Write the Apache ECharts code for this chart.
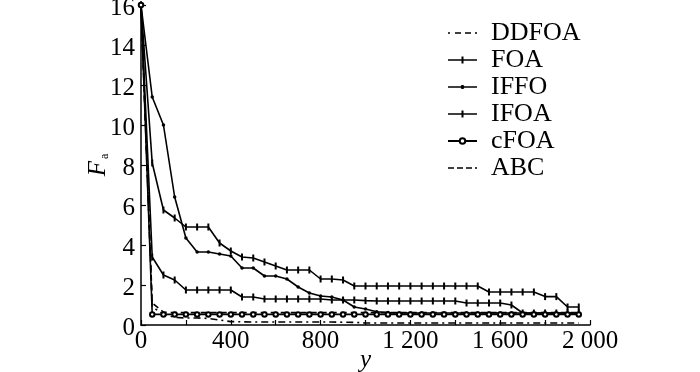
<!DOCTYPE html>
<html>
<head>
<meta charset="utf-8">
<script src="https://cdn.jsdelivr.net/npm/echarts@6/dist/echarts.min.js"></script>
<style>
  html, body { margin: 0; padding: 0; background: #fff; }
  #chart { width: 700px; height: 372px; }
</style>
</head>
<body>
<div id="chart"></div>
<script>
// iterations (x) and series values (y)
var iters = [0, 50, 100, 150, 200, 250, 300, 350, 400, 450, 500, 550, 600, 650, 700, 750, 800, 850, 900, 950,
  1000, 1050, 1100, 1150, 1200, 1250, 1300, 1350, 1400, 1450, 1500, 1550, 1600, 1650, 1700, 1750, 1800, 1850, 1900, 1950];

var ddfoa = [16, 0.9, 0.55, 0.38, 0.35, 0.35, 0.33, 0.25, 0.17, 0.16, 0.15, 0.15, 0.15, 0.15, 0.15, 0.15, 0.15, 0.15, 0.14, 0.13,
  0.1, 0.1, 0.1, 0.1, 0.1, 0.1, 0.1, 0.1, 0.1, 0.1, 0.1, 0.1, 0.1, 0.1, 0.1, 0.1, 0.1, 0.1, 0.1, 0.1];
var foa = [16, 8.1, 5.75, 5.35, 4.9, 4.9, 4.9, 4.1, 3.7, 3.4, 3.35, 3.15, 2.95, 2.75, 2.75, 2.75, 2.3, 2.3, 2.25, 1.95,
  1.95, 1.95, 1.95, 1.95, 1.95, 1.95, 1.95, 1.95, 1.95, 1.95, 1.95, 1.65, 1.65, 1.65, 1.65, 1.65, 1.42, 1.42, 0.9, 0.9];
var iffo = [16, 11.4, 10.0, 6.4, 4.35, 3.65, 3.65, 3.55, 3.45, 2.85, 2.85, 2.45, 2.45, 2.3, 1.9, 1.6, 1.45, 1.4, 1.25, 0.9,
  0.8, 0.66, 0.62, 0.6, 0.6, 0.6, 0.6, 0.6, 0.6, 0.6, 0.6, 0.6, 0.6, 0.6, 0.6, 0.6, 0.6, 0.6, 0.6, 0.6];
var ifoa = [16, 3.4, 2.5, 2.25, 1.75, 1.75, 1.75, 1.75, 1.75, 1.4, 1.4, 1.3, 1.3, 1.3, 1.3, 1.3, 1.3, 1.25, 1.25, 1.25,
  1.22, 1.2, 1.2, 1.2, 1.2, 1.2, 1.2, 1.2, 1.2, 1.1, 1.1, 1.1, 1.1, 1.0, 0.6, 0.6, 0.6, 0.6, 0.6, 0.6];
var cfoa = [16, 0.53, 0.53, 0.53, 0.53, 0.53, 0.53, 0.53, 0.53, 0.53, 0.53, 0.53, 0.53, 0.53, 0.53, 0.53, 0.53, 0.53, 0.53, 0.53,
  0.53, 0.53, 0.53, 0.53, 0.53, 0.53, 0.53, 0.53, 0.53, 0.53, 0.53, 0.53, 0.53, 0.53, 0.53, 0.53, 0.53, 0.53, 0.53, 0.53];
var abc = [16, 1.1, 0.64, 0.62, 0.62, 0.62, 0.62, 0.62, 0.62, 0.62, 0.62, 0.62, 0.62, 0.62, 0.62, 0.62, 0.62, 0.62, 0.62, 0.62,
  0.62, 0.62, 0.62, 0.62, 0.62, 0.62, 0.62, 0.62, 0.62, 0.62, 0.62, 0.62, 0.62, 0.62, 0.62, 0.62, 0.62, 0.62, 0.62, 0.62];

var font = "'Liberation Serif', 'Times New Roman', serif";

// "+" style marker: thin vertical bar on the line
var tickMark = 'path://M0,0h2v7h-2z';
// legend icons (line sample with its marker)
var ddfoaIcon = 'path://M0,0h2v1.6h-2zM7,0h6v1.6h-6zM17,0h6v1.6h-6zM27,0h2v1.6h-2z';
var abcIcon = 'path://M0,0h6v1.6h-6zM9,0h6v1.6h-6zM18,0h6v1.6h-6zM27,0h2v1.6h-2z';
var tickIcon = 'path://M0,2.7h29v1.6h-29zM13.5,0h2v7h-2z';
var dotIcon = 'path://M0,2.7h29v1.6h-29zM12.9,2h3.2v3h-3.2zM13.5,1.4h2v4.2h-2zM0,0h0.01v0.01h-0.01zM0,7h0.01v0.01h-0.01z';

function pairs(vals) {
  return iters.map(function (x, i) { return [x, vals[i]]; });
}

function makeSeries(name, vals, symbol, size, dash) {
  return {
    name: name,
    type: 'line',
    data: pairs(vals),
    symbol: symbol,
    symbolSize: size,
    symbolKeepAspect: true,
    showSymbol: symbol !== 'none',
    lineStyle: { color: '#000', width: 1.6, type: dash || 'solid' },
    itemStyle: { color: '#000' },
    emphasis: { disabled: true },
    animation: false
  };
}

var myChart = echarts.init(document.getElementById('chart'));

var option = {
  backgroundColor: '#fff',
  grid: { left: 141, right: 110, top: 5, bottom: 47, containLabel: false, outerBoundsMode: 'none' },
  legend: {
    orient: 'vertical',
    left: 447,
    top: 20,
    padding: 0,
    itemWidth: 29,
    itemHeight: 7,
    itemGap: 1,
    textStyle: { fontFamily: font, fontSize: 26, color: '#000', padding: [0, 0, 0, 9] },
    data: [
      { name: 'DDFOA', icon: ddfoaIcon },
      { name: 'FOA', icon: tickIcon },
      { name: 'IFFO', icon: dotIcon },
      { name: 'IFOA', icon: tickIcon },
      'cFOA',
      { name: 'ABC', icon: abcIcon }
    ]
  },
  xAxis: {
    type: 'value',
    min: 0,
    max: 2000,
    interval: 200,
    name: 'y',
    nameLocation: 'middle',
    nameGap: 23,
    nameMoveOverlap: false,
    nameTextStyle: { fontFamily: font, fontSize: 25, fontStyle: 'italic', color: '#000' },
    axisLine: { lineStyle: { color: '#000', width: 1.5 } },
    axisTick: { inside: true, length: 5, lineStyle: { color: '#000', width: 1.2 } },
    splitLine: { show: false },
    axisLabel: {
      margin: 4,
      fontFamily: font,
      fontSize: 25,
      color: '#000',
      formatter: function (v) {
        if (v % 400 !== 0) return '';
        if (v >= 1000) {
          var r = String(v % 1000);
          while (r.length < 3) r = '0' + r;
          return Math.floor(v / 1000) + ' ' + r;
        }
        return String(v);
      }
    }
  },
  yAxis: {
    type: 'value',
    min: 0,
    max: 16,
    interval: 2,
    name: '{f|F}{s|a}',
    nameLocation: 'middle',
    nameGap: 30,
    nameMoveOverlap: false,
    nameTextStyle: {
      fontFamily: font,
      color: '#000',
      rich: {
        f: { fontFamily: font, fontSize: 25, fontStyle: 'italic', color: '#000' },
        s: { fontFamily: font, fontSize: 12, color: '#000', verticalAlign: 'bottom', padding: [0, 0, 0, 2] }
      }
    },
    axisLine: { show: true, lineStyle: { color: '#000', width: 1.5 } },
    axisTick: { show: true, inside: true, length: 5, lineStyle: { color: '#000', width: 1.2 } },
    splitLine: { show: false },
    axisLabel: { margin: 6, verticalAlign: 'top', lineHeight: 6, fontFamily: font, fontSize: 25, color: '#000' }
  },
  series: [
    makeSeries('DDFOA', ddfoa, 'none', 0, [2, 4, 7, 4]),
    makeSeries('FOA', foa, tickMark, 7),
    makeSeries('IFFO', iffo, 'circle', 3.5),
    makeSeries('IFOA', ifoa, tickMark, 7),
    makeSeries('cFOA', cfoa, 'emptyCircle', 4.5),
    makeSeries('ABC', abc, 'none', 0, [6, 4])
  ]
};

myChart.setOption(option);
</script>
</body>
</html>
